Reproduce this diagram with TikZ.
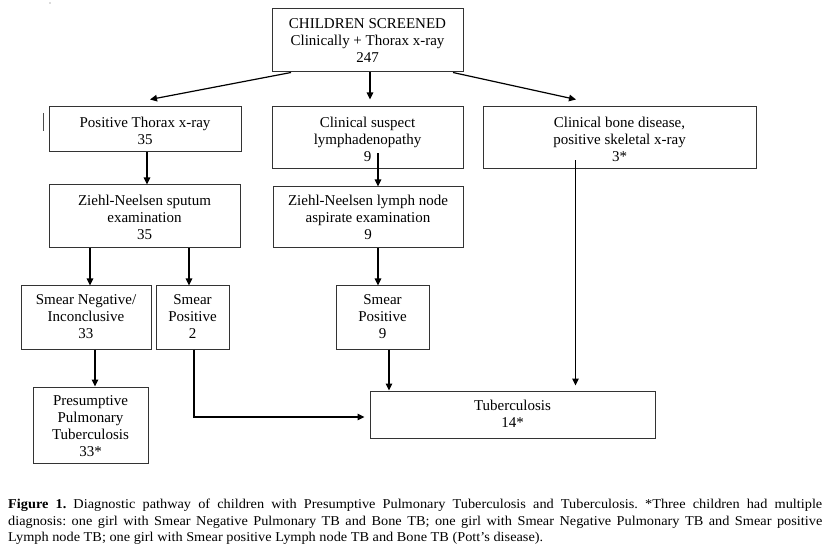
\documentclass[tikz,border=0pt]{standalone}
\usepackage{fontspec}
\setmainfont{Liberation Serif}
\usetikzlibrary{arrows.meta,calc}
\begin{document}
\begin{tikzpicture}[x=1pt,y=-1pt,
  bx/.style={draw=black!80,line width=1pt,inner sep=0pt,fill=none},
  txt/.style={font=\fontsize{15}{17}\selectfont,align=center,inner sep=0pt,anchor=north},
  arr/.style={draw=black,line width=1.2pt,-{Triangle[length=7pt,width=6.5pt]}},
  captxt/.style={font=\fontsize{13.5}{16.5}\selectfont\frenchspacing,inner sep=0pt,anchor=base west}]
\useasboundingbox (0,0) rectangle (828,548);
% boxes
\node[bx,minimum width=191pt,minimum height=63pt] (top) at (367.5,40.5) {};
\node[bx,minimum width=192pt,minimum height=45pt] (ptx) at (145,129.5) {};
\node[bx,minimum width=191pt,minimum height=62pt] (csl) at (367.5,138) {};
\node[bx,minimum width=273pt,minimum height=62pt] (cbd) at (619.5,138) {};
\node[bx,minimum width=191pt,minimum height=63pt] (zns) at (144.5,216.5) {};
\node[bx,minimum width=190pt,minimum height=61pt] (znl) at (368,217.5) {};
\node[bx,minimum width=130pt,minimum height=63pt] (sneg) at (86,317.5) {};
\node[bx,minimum width=73pt,minimum height=63pt] (spos2) at (192.5,317.5) {};
\node[bx,minimum width=93pt,minimum height=63pt] (spos9) at (382.5,317.5) {};
\node[bx,minimum width=115pt,minimum height=76pt] (ppt) at (90.5,425) {};
\node[bx,minimum width=285pt,minimum height=47pt] (tb) at (512.5,414.5) {};
% texts
\node[txt] (ttop) at (367.5,18.2) {CHILDREN SCREENED\\Clinically + Thorax x-ray\\247};
\node[txt] (tptx) at (145,116.7) {Positive Thorax x-ray\\35};
\node[txt] (tcsl) at (367.5,116.7) {Clinical suspect\\lymphadenopathy\\9};
\node[txt] (tcbd) at (619.5,116.7) {Clinical bone disease,\\positive skeletal x-ray\\3*};
\node[txt] (tzns) at (144.5,194.7) {Ziehl-Neelsen sputum\\examination\\35};
\node[txt] (tznl) at (368,194.7) {Ziehl-Neelsen lymph node\\aspirate examination\\9};
\node[txt] (tsneg) at (86,294.7) {Smear Negative/\\Inconclusive\\33};
\node[txt] (tspos2) at (192.5,294.7) {Smear\\Positive\\2};
\node[txt] (tspos9) at (382.5,294.7) {Smear\\Positive\\9};
\node[txt] (tppt) at (90.5,395.7) {Presumptive\\Pulmonary\\Tuberculosis\\33*};
\node[txt] (ttb) at (512.5,399.7) {Tuberculosis\\14*};
% connectors
\draw[arr] ($(top.south)+(-76.5pt,0)$) -- ($(ptx.north)+(5pt,7pt)$);
\draw[arr] ($(top.south)+(2.5pt,0)$) -- ($(csl.north)+(2.5pt,7pt)$);
\draw[arr] ($(top.south)+(85.5pt,0)$) -- ($(cbd.north)+(-43.5pt,7pt)$);
\coordinate (c0) at ($(ptx.south)+(2pt,0)$);
\draw[arr] (c0) -- (c0 |- zns.north);
\coordinate (c1) at ($(csl.south)+(10.5pt,16pt)$);
\draw[arr] (c1) -- (c1 |- znl.north);
\coordinate (c2) at ($(cbd.south)+(-44pt,9pt)$);
\draw[arr] (c2) -- ($(c2 |- tb.north)+(0,5pt)$);
\coordinate (c3) at ($(zns.south)+(-54.5pt,0)$);
\draw[arr] (c3) -- (c3 |- sneg.north);
\coordinate (c4) at ($(zns.south)+(44.5pt,0)$);
\draw[arr] (c4) -- (c4 |- spos2.north);
\coordinate (c5) at ($(znl.south)+(10pt,0)$);
\draw[arr] (c5) -- (c5 |- spos9.north);
\coordinate (c6) at ($(sneg.south)+(9pt,0)$);
\draw[arr] (c6) -- (c6 |- ppt.north);
\coordinate (c7) at ($(spos2.south)+(1.5pt,0)$);
\draw[arr] (c7) |- ($(tb.west)+(-5pt,-2.5pt)$);
\coordinate (c8) at ($(spos9.south)+(6.5pt,0)$);
\draw[arr] (c8) -- (c8 |- tb.north);
% stray marks
\draw[black!70,line width=0.9pt] (43,113) -- (43,131);
\fill[black!60] (50,3) circle (0.6pt);
% caption
\node[captxt] (cap1) at (8,508) {\scalebox{1.06}[1]{\makebox[768pt][s]{\textbf{Figure 1.} Diagnostic pathway of children with Presumptive Pulmonary Tuberculosis and Tuberculosis. *Three children had multiple}}};
\node[captxt] (cap2) at (8,525) {\scalebox{1.06}[1]{\makebox[768pt][s]{diagnosis: one girl with Smear Negative Pulmonary TB and Bone TB; one girl with Smear Negative Pulmonary TB and Smear positive}}};
\node[captxt] (cap3) at (8,541) {\scalebox{1.06}[1]{Lymph node TB; one girl with Smear positive Lymph node TB and Bone TB (Pott’s disease).}};
\end{tikzpicture}
\end{document}
